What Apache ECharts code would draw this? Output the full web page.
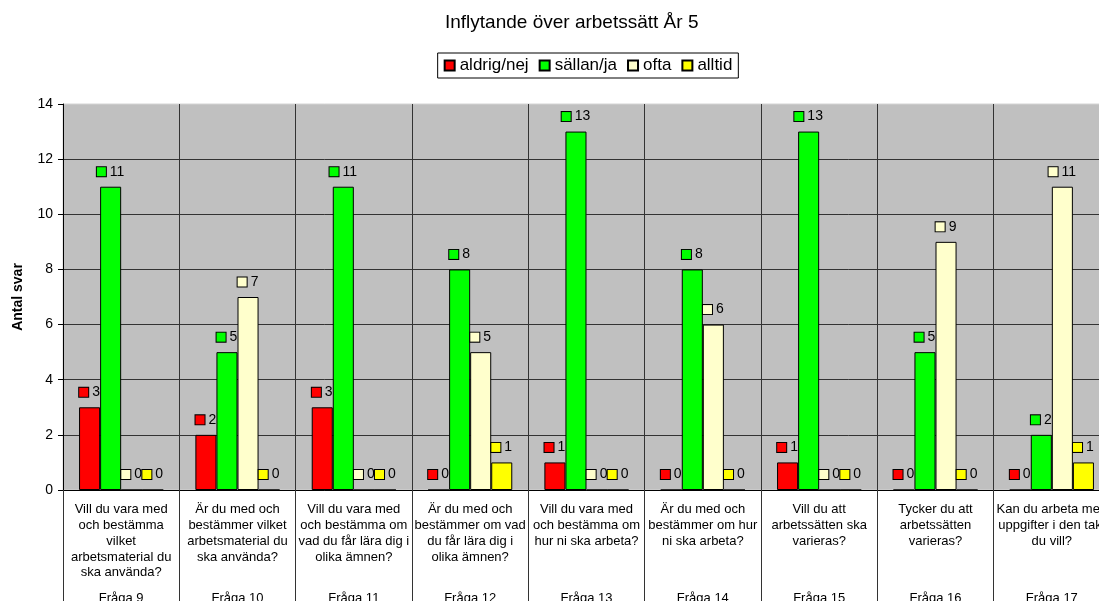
<!DOCTYPE html>
<html>
<head>
<meta charset="utf-8">
<script src="https://cdn.jsdelivr.net/npm/echarts@6/dist/echarts.min.js"></script>
<style>
  html, body { margin: 0; padding: 0; overflow: hidden; background: #fff; }
  #chart { width: 1176px; height: 601px; }
</style>
</head>
<body>
<div id="chart"></div>
<script>
const questions = [
  'Vill du vara med\noch bestämma\nvilket\narbetsmaterial du\nska använda?',
  'Är du med och\nbestämmer vilket\narbetsmaterial du\nska använda?',
  'Vill du vara med\noch bestämma om\nvad du får lära dig i\nolika ämnen?',
  'Är du med och\nbestämmer om vad\ndu får lära dig i\nolika ämnen?',
  'Vill du vara med\noch bestämma om\nhur ni ska arbeta?',
  'Är du med och\nbestämmer om hur\nni ska arbeta?',
  'Vill du att\narbetssätten ska\nvarieras?',
  'Tycker du att\narbetssätten\nvarieras?',
  'Kan du arbeta med\nuppgifter i den takt\ndu vill?'
]
const fragor = ['Fråga 9', 'Fråga 10', 'Fråga 11', 'Fråga 12', 'Fråga 13', 'Fråga 14', 'Fråga 15', 'Fråga 16', 'Fråga 17']

const aldrig = [3, 2, 3, 0, 1, 0, 1, 0, 0]
const sallan = [11, 5, 11, 8, 13, 8, 13, 5, 2]
const ofta = [0, 7, 0, 5, 0, 6, 0, 9, 11]
const alltid = [0, 0, 0, 1, 0, 0, 0, 0, 1]

const font = 'Liberation Sans, Arial, sans-serif'

const makeSeries = (name, data, color) => ({
  name: name,
  type: 'bar',
  data: data,
  xAxisIndex: 0,
  barGap: 0,
  barCategoryGap: '27.6%',
  itemStyle: { color: color, borderColor: '#000', borderWidth: 1 },
  label: {
    show: true,
    position: 'top',
    distance: 8,
    formatter: p => '{sq|}{v|' + p.value + '}',
    rich: {
      sq: { width: 9, height: 9, backgroundColor: color, borderColor: '#000', borderWidth: 1 },
      v: { fontSize: 14, fontFamily: font, color: '#000', padding: [0, 0, 0, 4] }
    }
  }
})

const chart = echarts.init(document.getElementById('chart'))

const option = {
  animation: false,
  textStyle: { fontFamily: font },
  title: {
    text: 'Inflytande över arbetssätt År 5',
    left: 440,
    top: 8,
    textStyle: { fontSize: 19, fontWeight: 'normal', color: '#000', fontFamily: font }
  },
  legend: {
    top: 53,
    left: 'center',
    itemWidth: 10,
    itemHeight: 10,
    itemGap: 10,
    padding: [4, 6, 4, 6],
    borderColor: '#000',
    borderWidth: 1,
    icon: 'rect',
    textStyle: { fontSize: 17, color: '#000', fontFamily: font },
    data: ['aldrig/nej', 'sällan/ja', 'ofta', 'alltid']
  },
  grid: {
    left: 63,
    right: 66,
    top: 104,
    bottom: 111,
    outerBoundsMode: 'none',
    containLabel: false,
    show: true,
    backgroundColor: '#C0C0C0',
    borderWidth: 1,
    borderColor: '#D4D4D4'
  },
  xAxis: [
    {
      type: 'category',
      data: questions,
      axisLine: { lineStyle: { color: '#000' } },
      axisTick: { show: true, length: 115, lineStyle: { color: '#333' } },
      splitLine: { show: true, lineStyle: { color: '#333' } },
      axisLabel: {
        interval: 0,
        margin: 12,
        fontSize: 13,
        lineHeight: 15.7,
        color: '#000',
        fontFamily: font
      }
    },
    {
      type: 'category',
      data: fragor,
      position: 'bottom',
      axisLine: { show: false },
      axisTick: { show: false },
      splitLine: { show: false },
      axisLabel: { interval: 0, margin: 102, fontSize: 13, color: '#000', fontFamily: font }
    }
  ],
  yAxis: {
    type: 'value',
    min: 0,
    max: 14,
    interval: 2,
    name: 'Antal svar',
    nameLocation: 'middle',
    nameGap: 38,
    nameTextStyle: { fontSize: 14, fontWeight: 'bold', color: '#000', fontFamily: font },
    axisLine: { show: true, lineStyle: { color: '#000' } },
    axisTick: { show: true, length: 5, lineStyle: { color: '#000' } },
    splitLine: { showMaxLine: false, lineStyle: { color: '#333' } },
    axisLabel: { fontSize: 14, color: '#000', margin: 10, fontFamily: font }
  },
  series: [
    makeSeries('aldrig/nej', aldrig, '#FF0000'),
    makeSeries('sällan/ja', sallan, '#00FF00'),
    makeSeries('ofta', ofta, '#FFFFCC'),
    makeSeries('alltid', alltid, '#FFFF00')
  ]
}

chart.setOption(option)
</script>
</body>
</html>
